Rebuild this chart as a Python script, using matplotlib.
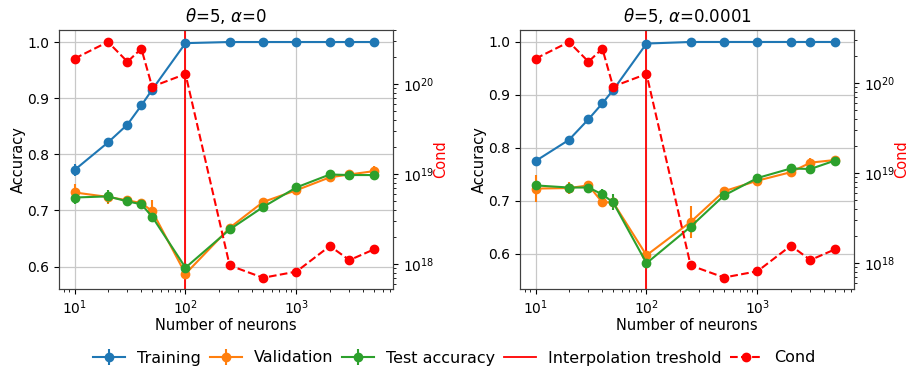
import numpy as np
import matplotlib
matplotlib.use("Agg")
import matplotlib.pyplot as plt

neurons = [10, 20, 30, 40, 50, 100, 250, 500, 1000, 2000, 3000, 5000]

# Left panel: theta=5, alpha=0
train_a0 = [0.772, 0.821, 0.853, 0.887, 0.915, 0.998, 1.0, 1.0, 1.0, 1.0, 1.0, 1.0]
train_a0_err = [0.010, 0.008, 0.005, 0.005, 0.004, 0.002, 0.001, 0.001, 0.001, 0.001, 0.001, 0.001]
val_a0 = [0.732, 0.724, 0.718, 0.713, 0.699, 0.587, 0.669, 0.715, 0.736, 0.759, 0.764, 0.770]
val_a0_err = [0.015, 0.012, 0.008, 0.006, 0.020, 0.005, 0.005, 0.006, 0.003, 0.004, 0.004, 0.010]
test_a0 = [0.723, 0.725, 0.716, 0.711, 0.689, 0.598, 0.666, 0.706, 0.741, 0.764, 0.763, 0.763]
test_a0_err = [0.012, 0.012, 0.007, 0.007, 0.010, 0.005, 0.008, 0.004, 0.004, 0.004, 0.004, 0.004]
cond_a0 = [1.93e20, 2.96e20, 1.78e20, 2.49e20, 9.4e19, 1.30e20, 9.6e17, 7.0e17, 8.2e17, 1.58e18, 1.10e18, 1.45e18]

# Right panel: theta=5, alpha=0.0001
train_a1 = [0.775, 0.815, 0.854, 0.884, 0.909, 0.997, 1.0, 1.0, 1.0, 1.0, 1.0, 1.0]
train_a1_err = [0.008, 0.004, 0.004, 0.004, 0.004, 0.002, 0.001, 0.001, 0.001, 0.001, 0.001, 0.001]
val_a1 = [0.723, 0.724, 0.729, 0.697, 0.697, 0.597, 0.660, 0.718, 0.738, 0.754, 0.772, 0.777]
val_a1_err = [0.025, 0.012, 0.008, 0.008, 0.005, 0.005, 0.030, 0.008, 0.005, 0.006, 0.008, 0.005]
test_a1 = [0.729, 0.725, 0.725, 0.712, 0.697, 0.582, 0.651, 0.710, 0.743, 0.761, 0.760, 0.776]
test_a1_err = [0.008, 0.008, 0.008, 0.010, 0.015, 0.004, 0.005, 0.006, 0.006, 0.004, 0.004, 0.004]
cond_a1 = [1.88e20, 2.88e20, 1.74e20, 2.43e20, 9.2e19, 1.27e20, 9.4e17, 6.9e17, 8.1e17, 1.56e18, 1.08e18, 1.42e18]

titles = [r"$\theta$=5, $\alpha$=0", r"$\theta$=5, $\alpha$=0.0001"]
threshold = 100

panels = [
    (train_a0, train_a0_err, val_a0, val_a0_err, test_a0, test_a0_err, cond_a0, (0.560, 1.0214), (10**17.72, 10**20.604)),
    (train_a1, train_a1_err, val_a1, val_a1_err, test_a1, test_a1_err, cond_a1, (0.5333, 1.0226), (10**17.711, 10**20.593)),
]

fig = plt.figure(figsize=(9.09, 3.67), dpi=100)
lefts = [59 / 909, 520 / 909]
width = 334 / 909
bottom = 1 - 289 / 367
height = (289 - 30) / 367

for i, (tr, tre, va, vae, te, tee, cond, ylim, ylim2) in enumerate(panels):
    ax = fig.add_axes([lefts[i], bottom, width, height])
    e1 = ax.errorbar(neurons, tr, yerr=tre, marker='o', color='tab:blue', label='Training', ms=6)
    e2 = ax.errorbar(neurons, va, yerr=vae, marker='o', color='tab:orange', label='Validation', ms=6)
    e3 = ax.errorbar(neurons, te, yerr=tee, marker='o', color='tab:green', label='Test accuracy', ms=6)
    vl = ax.axvline(threshold, color='red', lw=1.3, label='Interpolation treshold')
    ax.set_xscale('log')
    ax.set_xlim(10**0.86, 10**3.87)
    ax.set_ylim(*ylim)
    ax.set_yticks([0.6, 0.7, 0.8, 0.9, 1.0])
    ax.grid(True, which='major', color='#c8c8c8', lw=0.9)
    ax.set_xlabel('Number of neurons', fontsize=10.5, labelpad=0.5)
    ax.set_ylabel('Accuracy', fontsize=10.5, labelpad=1)
    ax.set_title(titles[i], fontsize=12)
    ax.tick_params(labelsize=10)
    for s in ax.spines.values():
        s.set_color('#404040')

    ax2 = ax.twinx()
    cl, = ax2.plot(neurons, cond, 'o--', color='red', label='Cond', ms=6)
    ax2.set_yscale('log')
    ax2.set_ylim(*ylim2)
    ax2.set_ylabel('Cond', color='red', fontsize=10.5, labelpad=-1)
    ax2.tick_params(labelsize=10)
    for s in ax2.spines.values():
        s.set_color('#404040')
    if i == 0:
        handles = [e1, e2, e3, vl, cl]
        labels = ['Training', 'Validation', 'Test accuracy', 'Interpolation treshold', 'Cond']

fig.legend(handles, labels, loc='center', bbox_to_anchor=(0.5, 1 - 358 / 367), ncol=5,
           frameon=False, fontsize=11.5, columnspacing=0.55, handletextpad=0.75)

fig.savefig('out.png', dpi=100)
